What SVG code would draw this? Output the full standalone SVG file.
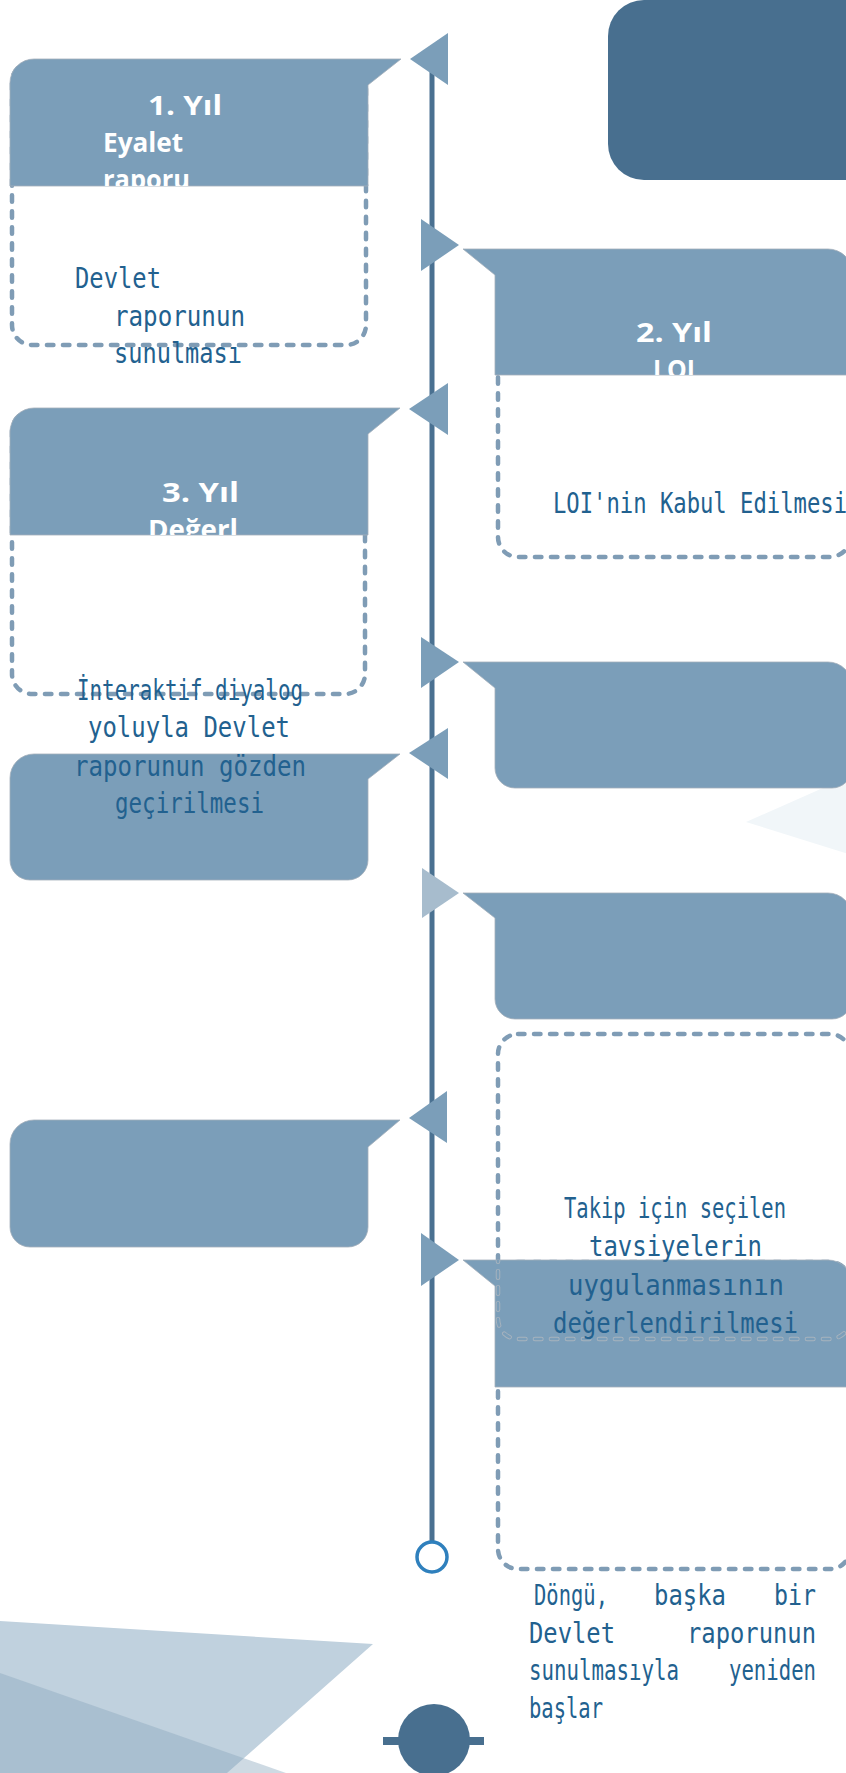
<svg xmlns="http://www.w3.org/2000/svg" xmlns:xlink="http://www.w3.org/1999/xlink" width="846" height="1773" viewBox="0 0 846 1773">
  <style>
    .box { fill: #7b9eb9; stroke: #a3afba; stroke-width: 0.8; }
    .ptr { fill: #7b9eb9; }
    .ptr-light { fill: #a7bccd; }
    .dash { fill: none; stroke: #7f9cb5; stroke-width: 4.5; stroke-dasharray: 6.5 9.5; stroke-linecap: round; }
    .dash-out { fill: none; stroke: #a7b3be; stroke-width: 4.5; stroke-dasharray: 6.5 9.5; stroke-linecap: round; }
    .dash-in { fill: none; stroke: #7b9eb9; stroke-width: 2.6; stroke-dasharray: 6.5 9.5; stroke-linecap: round; }
    .head { font-family: "Open Sans", "Liberation Sans", sans-serif; font-weight: bold; font-size: 26px; fill: #ffffff; }
    .body { font-family: "DejaVu Sans Mono", "Liberation Mono", monospace; font-size: 29px; fill: #22618f; }
  </style>
  <defs>
    <!-- callout shapes; left ones point right toward the timeline, right ones point left -->
    <path id="b1" d="M10,83 A24,24 0 0 1 34,59 L401,59 L368,85 L368,186 L10,186 Z"/>
    <path id="b3" d="M10,432 A24,24 0 0 1 34,408 L400,408 L368,434 L368,535 L10,535 Z"/>
    <path id="b5" d="M10,778 A24,24 0 0 1 34,754 L400,754 L368,779 L368,860 A20,20 0 0 1 348,880 L30,880 A20,20 0 0 1 10,860 Z"/>
    <path id="b7" d="M10,1144 A24,24 0 0 1 34,1120 L400,1120 L368,1147 L368,1227 A20,20 0 0 1 348,1247 L30,1247 A20,20 0 0 1 10,1227 Z"/>
    <path id="b2" d="M463,249 L828,249 A24,24 0 0 1 852,273 L852,375 L495,375 L495,275 Z"/>
    <path id="b4" d="M463,662 L828,662 A24,24 0 0 1 852,686 L852,768 A20,20 0 0 1 832,788 L515,788 A20,20 0 0 1 495,768 L495,688 Z"/>
    <path id="b6" d="M463,893 L828,893 A24,24 0 0 1 852,917 L852,999 A20,20 0 0 1 832,1019 L515,1019 A20,20 0 0 1 495,999 L495,918 Z"/>
    <path id="b8" d="M463,1260 L828,1260 A24,24 0 0 1 852,1284 L852,1387 L495,1387 L495,1286 Z"/>
    <clipPath id="clip1"><use xlink:href="#b1"/></clipPath>
    <clipPath id="clip2"><use xlink:href="#b2"/></clipPath>
    <clipPath id="clip3"><use xlink:href="#b3"/></clipPath>
    <clipPath id="clip8"><use xlink:href="#b8"/></clipPath>
  </defs>

  <rect width="846" height="1773" fill="#ffffff"/>

  <!-- background decoration -->
  <g id="decor">
    <rect x="608" y="0" width="280" height="180" rx="36" fill="#486f8f"/>
    <polygon points="746,822 900,754 900,870" fill="#f1f6f9"/>
    <polygon points="0,1621 373,1644 227,1773 0,1773" fill="#c0d1de"/>
    <polygon points="0,1673 286,1773 0,1773" fill="#8aa6bd" fill-opacity="0.42"/>
    <circle cx="434" cy="1740" r="36" fill="#486f8f"/>
    <rect x="383" y="1737" width="101" height="8" fill="#486f8f"/>
  </g>

  <!-- timeline and pointers -->
  <g id="connectors">
    <line x1="432" y1="70" x2="432" y2="1541" stroke="#4a7191" stroke-width="5"/>
    <circle cx="432" cy="1557" r="15" fill="#ffffff" stroke="#2f80bd" stroke-width="3.5"/>
    <polygon class="ptr" points="410,59 448,33 448,85"/>
    <polygon class="ptr" points="421,219 421,271 459,245"/>
    <polygon class="ptr" points="409,409 448,383 448,435"/>
    <polygon class="ptr" points="421,637 421,688 459,662"/>
    <polygon class="ptr" points="409,753 448,728 448,779"/>
    <polygon class="ptr-light" points="422,868 422,918 459,893"/>
    <polygon class="ptr" points="409,1118 447,1091 447,1143"/>
    <polygon class="ptr" points="421,1233 421,1286 459,1260"/>
  </g>

  <!-- Year 1 -->
  <g id="node-year1">
    <rect class="dash" x="12" y="62" width="354" height="283" rx="20"/>
    <use xlink:href="#b1" class="box"/>
    <g clip-path="url(#clip1)">
      <text class="head" x="148" y="115" textLength="74" lengthAdjust="spacingAndGlyphs">1. Yıl</text>
      <text class="head" x="103" y="152" textLength="80" lengthAdjust="spacingAndGlyphs">Eyalet</text>
      <text class="head" x="103" y="189" textLength="87" lengthAdjust="spacingAndGlyphs">raporu</text>
    </g>
    <text class="body" x="75" y="288" textLength="86" lengthAdjust="spacingAndGlyphs">Devlet</text>
    <text class="body" x="114" y="326" textLength="131" lengthAdjust="spacingAndGlyphs">raporunun</text>
    <text class="body" x="114" y="363" textLength="128" lengthAdjust="spacingAndGlyphs">sunulması</text>
  </g>

  <!-- Year 2 -->
  <g id="node-year2">
    <rect class="dash" x="498" y="252" width="352" height="305" rx="20"/>
    <use xlink:href="#b2" class="box"/>
    <g clip-path="url(#clip2)">
      <text class="head" x="636" y="342" textLength="76" lengthAdjust="spacingAndGlyphs">2. Yıl</text>
      <text class="head" x="653" y="379" textLength="42" lengthAdjust="spacingAndGlyphs">LOI</text>
    </g>
    <text class="body" x="553" y="513" textLength="294" lengthAdjust="spacingAndGlyphs">LOI'nin Kabul Edilmesi</text>
  </g>

  <!-- Year 3 -->
  <g id="node-year3">
    <rect class="dash" x="12" y="411" width="353" height="283" rx="20"/>
    <use xlink:href="#b3" class="box"/>
    <g clip-path="url(#clip3)">
      <text class="head" x="162" y="502" textLength="77" lengthAdjust="spacingAndGlyphs">3. Yıl</text>
      <text class="head" x="148" y="539" textLength="90" lengthAdjust="spacingAndGlyphs">Değerl</text>
    </g>
  </g>

  <g id="node-step4">
    <use xlink:href="#b4" class="box"/>
  </g>

  <g id="node-step5">
    <use xlink:href="#b5" class="box"/>
  </g>

  <g id="node-review-text">
    <text class="body" x="77" y="700" textLength="226" lengthAdjust="spacingAndGlyphs">İnteraktif diyalog</text>
    <text class="body" x="88" y="737" textLength="202" lengthAdjust="spacingAndGlyphs">yoluyla Devlet</text>
    <text class="body" x="74" y="776" textLength="232" lengthAdjust="spacingAndGlyphs">raporunun gözden</text>
    <text class="body" x="115" y="813" textLength="149" lengthAdjust="spacingAndGlyphs">geçirilmesi</text>
  </g>

  <g id="node-step6">
    <use xlink:href="#b6" class="box"/>
  </g>

  <g id="node-step7">
    <use xlink:href="#b7" class="box"/>
  </g>

  <!-- follow-up stage -->
  <g id="node-followup">
    <rect class="dash" x="498" y="1262" width="352" height="307" rx="20"/>
    <rect class="dash" x="498" y="1034" width="352" height="305" rx="20"/>
    <use xlink:href="#b8" class="box"/>
    <g clip-path="url(#clip8)">
      <rect class="dash-out" x="498" y="1034" width="352" height="305" rx="20"/>
      <rect class="dash-in" x="498" y="1034" width="352" height="305" rx="20"/>
    </g>
    <text class="body" x="564" y="1218" textLength="222" lengthAdjust="spacingAndGlyphs">Takip için seçilen</text>
    <text class="body" x="589" y="1256" textLength="173" lengthAdjust="spacingAndGlyphs">tavsiyelerin</text>
    <text class="body" x="568" y="1295" textLength="216" lengthAdjust="spacingAndGlyphs">uygulanmasının</text>
    <text class="body" x="553" y="1333" textLength="245" lengthAdjust="spacingAndGlyphs">değerlendirilmesi</text>
  </g>

  <!-- closing note, justified -->
  <g id="node-cycle">
    <text class="body" x="534" y="1605" textLength="74" lengthAdjust="spacingAndGlyphs">Döngü,</text>
    <text class="body" x="654" y="1605" textLength="72" lengthAdjust="spacingAndGlyphs">başka</text>
    <text class="body" x="774" y="1605" textLength="42" lengthAdjust="spacingAndGlyphs">bir</text>
    <text class="body" x="529" y="1643" textLength="86" lengthAdjust="spacingAndGlyphs">Devlet</text>
    <text class="body" x="687" y="1643" textLength="129" lengthAdjust="spacingAndGlyphs">raporunun</text>
    <text class="body" x="529" y="1680" textLength="150" lengthAdjust="spacingAndGlyphs">sunulmasıyla</text>
    <text class="body" x="729" y="1680" textLength="87" lengthAdjust="spacingAndGlyphs">yeniden</text>
    <text class="body" x="529" y="1718" textLength="74" lengthAdjust="spacingAndGlyphs">başlar</text>
  </g>
</svg>
